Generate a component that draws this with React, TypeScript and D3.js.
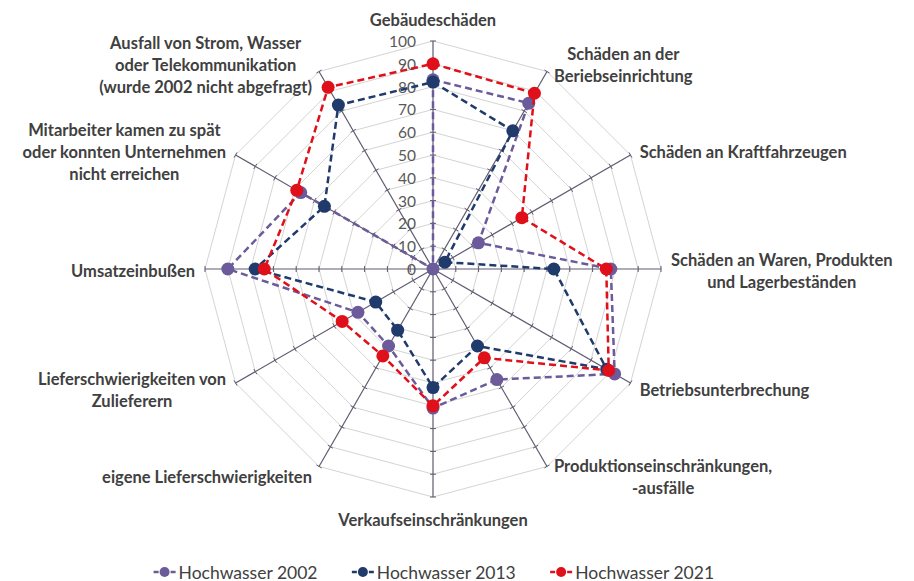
import React from 'react';
import * as d3 from 'd3';

const categories: string[] = [
  'Gebäudeschäden',
  'Schäden an der\nBeriebseinrichtung',
  'Schäden an Kraftfahrzeugen',
  'Schäden an Waren, Produkten\nund Lagerbeständen',
  'Betriebsunterbrechung',
  'Produktionseinschränkungen,\n-ausfälle',
  'Verkaufseinschränkungen',
  'eigene Lieferschwierigkeiten',
  'Lieferschwierigkeiten von\nZulieferern',
  'Umsatzeinbußen',
  'Mitarbeiter kamen zu spät\noder konnten Unternehmen\nnicht erreichen',
  'Ausfall von Strom, Wasser\noder Telekommunikation\n(wurde 2002 nicht abgefragt)',
];

const seriesNames = ['Hochwasser 2002', 'Hochwasser 2013', 'Hochwasser 2021'];
const values2002 = [83, 84, 23, 78, 92, 56, 61, 39, 38, 90, 67, 0];
const values2013 = [82, 70, 6, 53, 88, 39, 52, 31, 29, 78, 55, 83];
const values2021 = [90, 89, 45, 76, 89, 45, 60, 44, 46, 74, 69, 92];
const seriesColors = ['#6b5b9a', '#1f3a6b', '#e0101a'];
const tickValues = [0, 10, 20, 30, 40, 50, 60, 70, 80, 90, 100];

const W = 914;
const H = 581;
const cx = 433;
const cy = 269;
const R = 228;
const LABEL_FONT = 16.5;
const LEGEND_FONT = 17.5;
const FONT = 'Lato, Carlito, Calibri, sans-serif';
const TEXT_COLOR = '#404040';

let ctx: CanvasRenderingContext2D | null = null;
function measure(text: string, font: string): number {
  if (!ctx) {
    const c = document.createElement('canvas');
    ctx = c.getContext('2d');
  }
  if (!ctx) return text.length * 8;
  ctx.font = font;
  return ctx.measureText(text).width;
}

export default function App() {
  const n = categories.length;
  const rScale = d3.scaleLinear().domain([0, 100]).range([0, R]);
  const angle = d3.scaleLinear().domain([0, n]).range([0, 2 * Math.PI]);
  const idx = d3.range(n);

  const ring = (v: number) =>
    d3
      .lineRadial<number>()
      .angle((i) => angle(i))
      .radius(() => rScale(v))
      .curve(d3.curveLinearClosed)(idx) as string;

  const seriesLine = d3
    .lineRadial<number>()
    .angle((_, i) => angle(i))
    .radius((d) => rScale(d))
    .curve(d3.curveLinearClosed);

  const pt = (i: number, v: number) => {
    const a = angle(i);
    return [Math.sin(a) * rScale(v), -Math.cos(a) * rScale(v)];
  };

  const allSeries = [values2002, values2013, values2021];

  // labels
  const lineH = 22;
  const labelEls = categories.map((cat, i) => {
    const lines = cat.split('\n');
    const a = angle(i);
    const s = Math.sin(a);
    const c = Math.cos(a);
    const [ex, ey] = pt(i, 100);
    const font = `bold ${LABEL_FONT}px ${FONT}`;
    const bw = Math.max(...lines.map((l) => measure(l, font)));
    const bh = lines.length * lineH;
    let bx: number;
    let by: number;
    if (Math.abs(s) < 0.01) {
      bx = ex;
      by = c > 0 ? ey - 21 - (bh - lineH) / 2 : ey + 23 + (bh - lineH) / 2;
    } else {
      const gap = 4 + 6 * Math.abs(s);
      bx = s > 0 ? ex + gap + bw / 2 : ex - gap - bw / 2;
      by = ey + 2 - 10 * c;
    }
    return (
      <text
        key={i}
        x={cx + bx}
        textAnchor="middle"
        fontFamily={FONT}
        fontWeight="bold"
        fontSize={LABEL_FONT}
        fill={TEXT_COLOR}
      >
        {lines.map((l, j) => (
          <tspan key={j} x={cx + bx} y={cy + by - bh / 2 + lineH * j + lineH / 2} dominantBaseline="central">
            {l}
          </tspan>
        ))}
      </text>
    );
  });

  // legend
  const legFont = `${LEGEND_FONT}px ${FONT}`;
  const markerW = 22;
  const itemGap = 34;
  const widths = seriesNames.map((s) => markerW + 3 + measure(s, legFont));
  const total = d3.sum(widths) + itemGap * (seriesNames.length - 1);
  let lx = cx + 1 - total / 2;
  const legendY = 572;
  const legendEls = seriesNames.map((name, k) => {
    const x0 = lx;
    lx += widths[k] + itemGap;
    return (
      <g key={k}>
        <line x1={x0} x2={x0 + markerW} y1={legendY} y2={legendY} stroke={seriesColors[k]} strokeWidth={2.5} strokeDasharray="5 12" />
        <circle cx={x0 + markerW / 2} cy={legendY} r={5} fill={seriesColors[k]} />
        <text x={x0 + markerW + 3} y={legendY} dominantBaseline="central" fontFamily={FONT} fontSize={LEGEND_FONT} fill={TEXT_COLOR}>
          {name}
        </text>
      </g>
    );
  });

  return (
    <svg width={W} height={H} style={{ position: 'absolute', left: 0, top: 0, background: '#fff' }}>
      <rect width={W} height={H} fill="#fff" />
      <g transform={`translate(${cx},${cy})`}>
        {tickValues.slice(1).map((v) => (
          <path key={v} d={ring(v)} fill="none" stroke="#d4d4d4" strokeWidth={1} />
        ))}
        {idx.map((i) => {
          const [x, y] = pt(i, 100);
          const a = angle(i);
          const px = Math.cos(a);
          const py = Math.sin(a);
          return (
            <g key={i}>
              <line x1={0} y1={0} x2={x} y2={y} stroke="#5f5a6e" strokeWidth={1.2} />
              {tickValues.slice(1).map((v) => {
                const [tx, ty] = pt(i, v);
                return (
                  <line key={v} x1={tx - px * 3} y1={ty - py * 3} x2={tx + px * 3} y2={ty + py * 3} stroke="#5f5a6e" strokeWidth={1} />
                );
              })}
            </g>
          );
        })}
        {tickValues.map((v) => (
          <text
            key={v}
            x={-17}
            y={-rScale(v)}
            textAnchor="end"
            dominantBaseline="central"
            fontFamily={FONT}
            fontSize={15.5}
            fill="#595959"
          >
            {v}
          </text>
        ))}
        {allSeries.map((vals, k) => (
          <g key={k}>
            <path d={seriesLine(vals) as string} fill="none" stroke={seriesColors[k]} strokeWidth={2.5} strokeDasharray="7 4" />
            {vals.map((v, i) => {
              const [x, y] = pt(i, v);
              return <circle key={i} cx={x} cy={y} r={6.5} fill={seriesColors[k]} />;
            })}
          </g>
        ))}
      </g>
      {labelEls}
      {legendEls}
    </svg>
  );
}
